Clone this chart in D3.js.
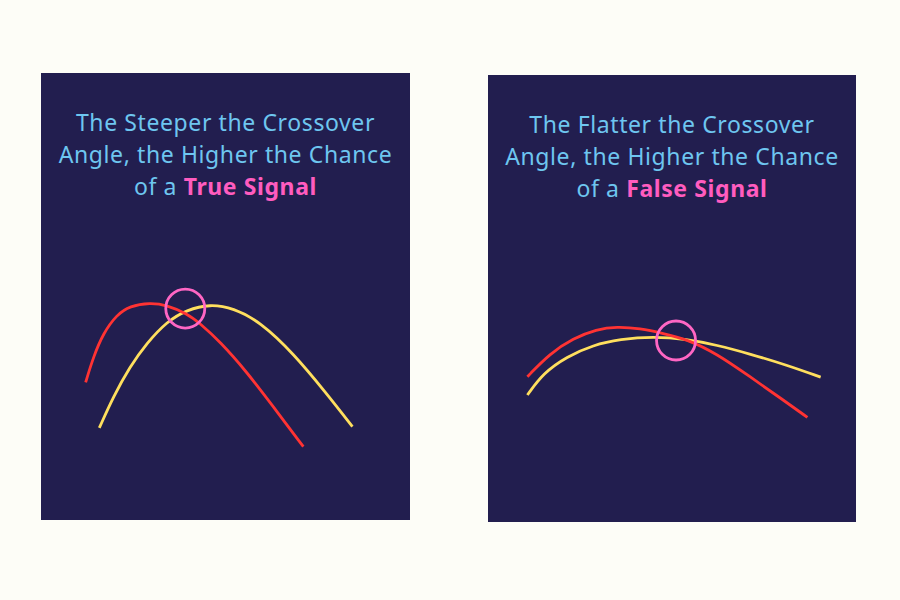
<!DOCTYPE html>
<html>
<head>
<meta charset="utf-8">
<script src="https://cdn.jsdelivr.net/npm/d3@7"></script>
<style>
  body { margin: 0; background: #fdfdf7; }
  svg { display: block; }
</style>
</head>
<body>
<div id="chart"></div>
<script>
// panel titles
var titlesSteep = ["The Steeper the Crossover", "Angle, the Higher the Chance", "of a "];
var titlesFlat = ["The Flatter the Crossover", "Angle, the Higher the Chance", "of a "];
var highlight = ["True Signal", "False Signal"];

// curves, [time, value] on a 0-100 grid of each panel
var steepFast = [[12.1,30.8],[14.2,36.5],[16.9,41.8],[20.5,45.9],[24.1,47.9],[29.5,48.6],[34.1,48.1],
  [39.5,46.2],[43.1,44.0],[48.5,39.9],[55.7,33.2],[63.0,25.3],[71.1,16.4]];
var steepSlow = [[15.8,20.6],[19.6,27.6],[24.1,34.3],[28.6,39.5],[34.1,44.4],[39.5,47.0],[45.8,48.3],
  [52.1,47.4],[59.3,44.4],[68.4,37.3],[77.4,28.3],[84.4,20.9]];
var flatFast = [[10.7,32.5],[16.8,37.7],[23.2,41.1],[29.5,43.1],[35.0,43.7],[41.3,43.3],[47.6,42.2],
  [54.0,40.9],[62.1,37.7],[71.2,32.5],[80.2,27.3],[86.8,23.4]];
var flatSlow = [[10.7,28.4],[15.0,33.3],[21.4,37.0],[28.6,39.6],[35.9,40.9],[44.9,41.5],[54.0,40.9],
  [62.1,39.6],[71.2,37.6],[81.2,35.1],[90.4,32.4]];
// where the lines cross
var crossSteep = [39.1, 47.3];
var crossFlat = [51.1, 40.6];

var width = 900, height = 600;

var svg = d3.select("#chart")
  .append("svg")
    .attr("width", width)
    .attr("height", height);

var panels = [
  {x: 41, y: 73, w: 369, h: 447, title: titlesSteep, hi: highlight[0], fast: steepFast, slow: steepSlow, cross: crossSteep},
  {x: 488, y: 75, w: 368, h: 447, title: titlesFlat, hi: highlight[1], fast: flatFast, slow: flatSlow, cross: crossFlat}
];

panels.forEach(function(p) {
  var g = svg.append("g")
    .attr("transform", "translate(" + p.x + "," + p.y + ")");

  g.append("rect")
    .attr("width", p.w)
    .attr("height", p.h)
    .attr("fill", "#221e4f");

  var x = d3.scaleLinear().domain([0, 100]).range([0, p.w]);
  var y = d3.scaleLinear().domain([0, 100]).range([p.h, 0]);

  var line = d3.line()
    .x(function(d) { return x(d[0]); })
    .y(function(d) { return y(d[1]); })
    .curve(d3.curveBasis);

  // title
  var t = g.append("text")
    .attr("text-anchor", "middle")
    .attr("font-family", "'Noto Sans', sans-serif")
    .attr("font-size", 23)
    .attr("font-weight", 400)
    .attr("letter-spacing", 0.6)
    .attr("fill", "#6ec6f0");
  p.title.forEach(function(s, i) {
    t.append("tspan")
      .attr("x", p.w / 2)
      .attr("y", 58 + i * 32)
      .text(s);
    if (i == p.title.length - 1) {
      t.append("tspan")
        .attr("font-weight", 700)
        .attr("fill", "#ff5cbf")
        .text(p.hi);
    }
  });

  g.append("path")
    .attr("d", line(p.slow))
    .attr("fill", "none")
    .attr("stroke", "#ffdf5e")
    .attr("stroke-width", 2.8);

  g.append("path")
    .attr("d", line(p.fast))
    .attr("fill", "none")
    .attr("stroke", "#ff3333")
    .attr("stroke-width", 2.8);

  g.append("circle")
    .attr("cx", x(p.cross[0]))
    .attr("cy", y(p.cross[1]))
    .attr("r", 19.5)
    .attr("fill", "none")
    .attr("stroke", "#ff66c4")
    .attr("stroke-width", 2.8);
});
</script>
</body>
</html>
